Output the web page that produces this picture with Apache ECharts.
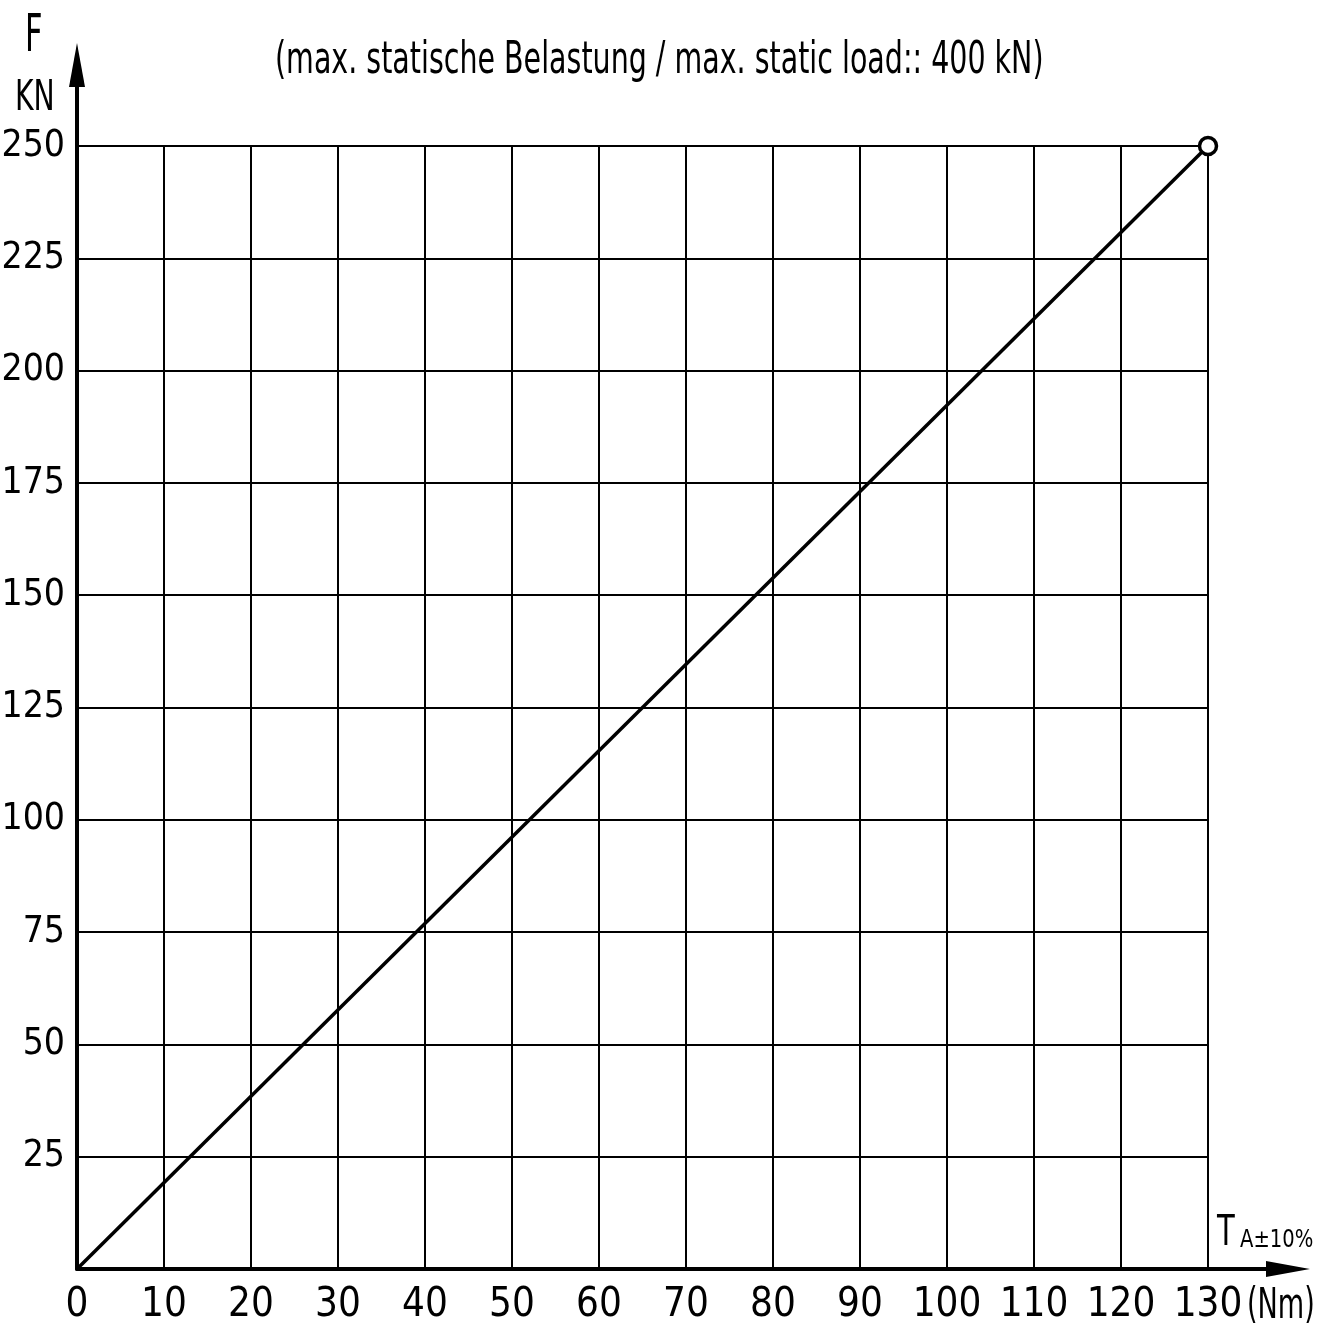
<!DOCTYPE html>
<html><head><meta charset="utf-8">
<script src="https://cdn.jsdelivr.net/npm/echarts@6/dist/echarts.min.js"></script>
<style>html,body{margin:0;padding:0;background:#fff}#c{width:1327px;height:1337px}</style>
</head><body><div id="c"></div>
<script>
const xValues = [0, 130];
const yValues = [0, 250];
const xMin = 0, xMax = 130, xStep = 10;
const yMin = 0, yMax = 250, yStep = 25;
const titleText = '(max. statische Belastung / max. static load:: 400 kN)';

const FONT = '"DejaVu Sans Condensed","Liberation Sans Narrow","Liberation Sans",sans-serif';
const chart = echarts.init(document.getElementById('c'), null, {renderer: 'canvas'});
const pts = xValues.map((x, i) => ({value: [x, yValues[i]], symbol: i === xValues.length - 1 ? 'circle' : 'none'}));

function txt(text, x, y, size, sx) {
  return {type: 'text', x: x, y: y, scaleX: sx, z: 10,
    style: {text: text, font: size + 'px ' + FONT, fill: '#000', verticalAlign: 'middle', align: 'left'}};
}

chart.setOption({
  animation: false,
  backgroundColor: '#fff',
  grid: [
    {left: 77, top: 146, width: 1131, height: 1123, containLabel: false, outerBoundsMode: 'none'},
    {left: 77, top: 65, right: 39, bottom: 68, containLabel: false, outerBoundsMode: 'none'}
  ],
  xAxis: [
    {gridIndex: 0, type: 'value', min: xMin, max: xMax, interval: xStep,
     axisLine: {show: false}, axisTick: {show: false},
     axisLabel: {color: '#000', fontFamily: FONT, fontSize: 40, margin: 17},
     splitLine: {show: true, lineStyle: {color: '#000', width: 2}}},
    {gridIndex: 1, type: 'value', min: 0, max: 1,
     axisLine: {show: true, onZero: false, lineStyle: {color: '#000', width: 4}, symbol: ['none', 'triangle'], symbolSize: [16, 44]},
     axisTick: {show: false}, axisLabel: {show: false}, splitLine: {show: false}}
  ],
  yAxis: [
    {gridIndex: 0, type: 'value', min: yMin, max: yMax, interval: yStep,
     axisLine: {show: false}, axisTick: {show: false},
     axisLabel: {color: '#000', fontFamily: FONT, fontSize: 37, margin: 12,
       formatter: v => v === 0 ? '' : String(v)},
     splitLine: {show: true, lineStyle: {color: '#000', width: 2}}},
    {gridIndex: 1, type: 'value', min: 0, max: 1,
     axisLine: {show: true, onZero: false, lineStyle: {color: '#000', width: 4}, symbol: ['none', 'triangle'], symbolSize: [16, 44]},
     axisTick: {show: false}, axisLabel: {show: false}, splitLine: {show: false}}
  ],
  series: [{
    type: 'line', xAxisIndex: 0, yAxisIndex: 0,
    data: pts,
    lineStyle: {color: '#000', width: 3.5},
    symbolSize: 17,
    itemStyle: {color: '#fff', borderColor: '#000', borderWidth: 3.5},
    z: 5
  }],
  graphic: [
    txt(titleText, 275, 62, 44, 0.72),
    txt('F', 25, 37, 52, 0.65),
    txt('KN', 15, 99, 43, 0.73),
    txt('T', 1217, 1234, 43, 0.75),
    txt('A±10%', 1240, 1240, 25, 0.87),
    txt('(Nm)', 1247, 1307, 43, 0.7)
  ]
});
</script></body></html>
